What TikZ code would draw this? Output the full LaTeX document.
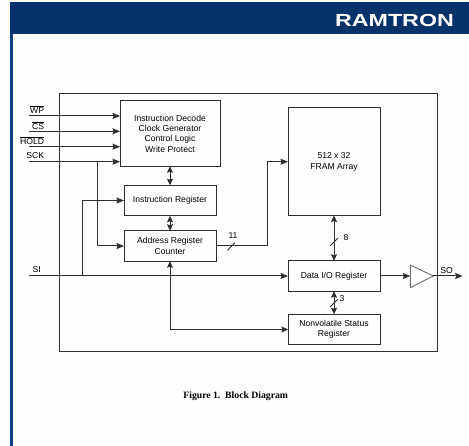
\documentclass[tikz,border=0pt]{standalone}
\usepackage{fontspec}
\usepackage{graphicx}
\setmainfont{Liberation Sans}
\newfontfamily\captionfont{Liberation Serif}
\usetikzlibrary{
  arrows.meta,
  positioning
}
\definecolor{rtNavy}{HTML}{04326B}
\definecolor{rtEdge}{HTML}{0D4488}
\definecolor{rtLine}{HTML}{2E2E2E}
\definecolor{rtPaper}{HTML}{FFFEFC}
\tikzset{
  block/.style={
    draw=rtLine, line width=1pt, minimum width=92pt, minimum height=30.5pt, outer sep=0pt,
    font=\fontsize{8.6}{10.3}\selectfont, align=center, text=black, inner sep=0pt
  },
  sigtext/.style={font=\fontsize{8.6}{10}\selectfont, text=black, inner sep=0pt},
  sigline/.style={-{Stealth[length=7.5pt,width=6pt,inset=1pt]}, line width=1pt, draw=rtLine},
  bidir/.style={{Stealth[length=6.5pt,width=6pt,inset=1pt]}-{Stealth[length=6.5pt,width=6pt,inset=1pt]}, line width=1pt, draw=rtLine},
  slashmark/.style={line width=0.9pt, draw=rtLine}
}
\newcommand{\busmark}[1]{\draw[slashmark] (#1) +(-3.8,3.8) -- +(3.8,-3.8);}
\begin{document}
\begin{tikzpicture}[x=1pt,y=-1pt]
  \useasboundingbox (0,0) rectangle (469,446);
  \fill[rtPaper] (0,0) rectangle (469,446);
  \fill[rtEdge] (10,30) rectangle (13,446);
  \fill[rtNavy] (10,2) rectangle (469,34);
  \node[text=white, inner sep=0pt, font=\fontsize{17.5}{18}\selectfont\bfseries] (logo) at (394.5,20.3) {\scalebox{1.33}[1]{RAMTRON}};

  \node[draw=rtLine, line width=1pt, minimum width=378pt, minimum height=258.5pt, outer sep=0pt] (chip) at (248.5,222.75) {};
  \node[block, minimum width=100pt, minimum height=65.5pt] (decode) at (170,133.5) {Instruction Decode\\Clock Generator\\Control Logic\\Write Protect};
  \node[block, below=19pt of decode] (instr) {Instruction Register};
  \node[block, below=15pt of instr] (addr) {Address Register\\Counter};
  \node[block, minimum height=107.5pt] (fram) at (334,161.75) {512 x 32\\FRAM Array};
  \node[block] (data) at (334,276) {Data I/O Register};
  \node[block, below=23pt of data] (status) {Nonvolatile Status\\Register};

  \coordinate (wpin) at (29,116);
  \coordinate (csin) at (29,131.3);
  \coordinate (holdin) at (29,146.7);
  \coordinate (sckin) at (29,161.7);
  \coordinate (siin) at (29,276);
  \coordinate (soout) at (462.7,276);
  \coordinate (scktap) at (97.7,161.7);
  \coordinate (sitap) at (82,276);
  \coordinate (framturn) at (267.3,161.75);
  \coordinate (bufin) at (410.3,276);
  \coordinate (buftip) at (433.3,276);

  \draw[draw=rtLine!70, line width=0.9pt] (410.3,265) -- (buftip) -- (410.3,287.7) -- cycle;

  \node[sigtext, anchor=east] (wplabel) at (44.3,110) {$\overline{\mbox{WP}}$};
  \node[sigtext, anchor=east] (cslabel) at (44.3,125.5) {$\overline{\mbox{CS}}$};
  \node[sigtext, anchor=east] (holdlabel) at (44.3,141) {$\overline{\mbox{HOLD}}$};
  \node[sigtext, anchor=east] (scklabel) at (44.3,156) {SCK};
  \node[sigtext] (silabel) at (36.7,270) {SI};
  \node[sigtext] (solabel) at (446.7,270.5) {SO};
  \node[sigtext] (elevenlabel) at (233,235.7) {11};
  \node[sigtext] (eightlabel) at (346,238) {8};
  \node[sigtext] (threelabel) at (342,299) {3};

  \draw[sigline] (wpin) -- (wpin -| decode.west);
  \draw[sigline] (csin) -- (csin -| decode.west);
  \draw[sigline] (holdin) -- (holdin -| decode.west);
  \draw[sigline] (sckin) -- (sckin -| decode.west);
  \draw[sigline] (scktap) |- (addr.west);
  \draw[sigline] (sitap) |- (instr.west);
  \draw[sigline] (siin) -- (data.west);
  \draw[bidir] (decode) -- (instr);
  \draw[bidir] (instr) -- (addr);
  \draw[bidir] (fram) -- (data);
  \draw[bidir] (data) -- (status);
  \draw[sigline] (addr.east) -| (framturn) -- (fram.west);
  \draw[bidir] (addr.south) |- (status.west);
  \draw[sigline] (data.east) -- (bufin);
  \draw[sigline] (buftip) -- (soout);

  \busmark{231.3,246.5}
  \busmark{334,242}
  \busmark{334,303}

  \node[inner sep=0pt, font=\captionfont\fontsize{9.7}{12}\selectfont\bfseries] (caption) at (235.7,396.7) {Figure 1.\ \ Block Diagram};
\end{tikzpicture}
\end{document}
